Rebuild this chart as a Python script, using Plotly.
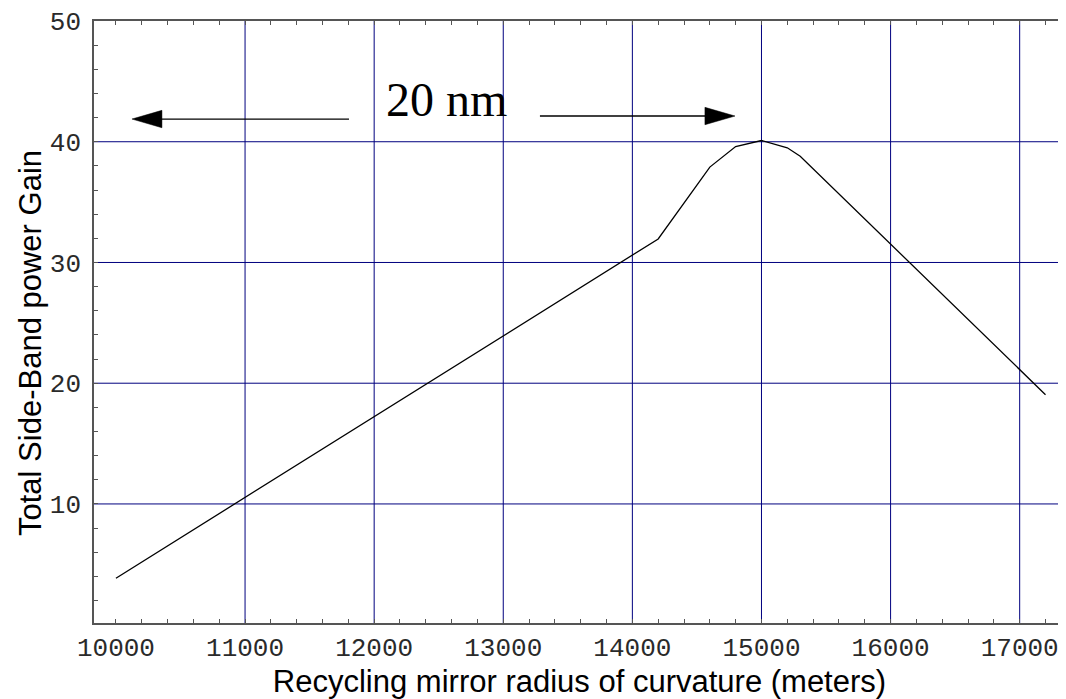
import plotly.graph_objects as go

# Data
radius_m = [10000, 14200, 14600, 14800, 15000, 15200, 15300, 17200]
gain = [3.85, 31.95, 37.9, 39.6, 40.1, 39.5, 38.8, 19.05]

x_ticks = [10000, 11000, 12000, 13000, 14000, 15000, 16000, 17000]
y_ticks = [10, 20, 30, 40, 50]
x_grid = [11000, 12000, 13000, 14000, 15000, 16000, 17000]
y_grid = [10, 20, 30, 40]

X_RANGE = [9830, 17351]
Y_RANGE = [0.14, 50]

GRID = "#00007f"
AXIS = "#555555"

fig = go.Figure()
fig.add_trace(go.Scatter(x=radius_m, y=gain, mode="lines",
                         line=dict(color="black", width=1.3),
                         showlegend=False, hoverinfo="skip"))

shapes = []
for gx in x_grid:
    shapes.append(dict(type="line", xref="x", yref="paper", x0=gx, x1=gx, y0=0, y1=1,
                       line=dict(color=GRID, width=1), layer="below"))
for gy in y_grid:
    shapes.append(dict(type="line", xref="paper", yref="y", x0=0, x1=1, y0=gy, y1=gy,
                       line=dict(color=GRID, width=1), layer="below"))

# "20 nm" arrows
ay_left, ay_right = 41.88, 42.13
hh = 0.72
shapes.append(dict(type="line", xref="x", yref="y", x0=11805, x1=10300, y0=ay_left, y1=ay_left,
                   line=dict(color="black", width=1.3)))
shapes.append(dict(type="path", xref="x", yref="y",
                   path=f"M 10124,{ay_left} L 10356,{ay_left+hh} L 10356,{ay_left-hh} Z",
                   fillcolor="black", line=dict(color="black", width=0.5)))
shapes.append(dict(type="line", xref="x", yref="y", x0=13284, x1=14600, y0=ay_right, y1=ay_right,
                   line=dict(color="black", width=1.3)))
shapes.append(dict(type="path", xref="x", yref="y",
                   path=f"M 14795,{ay_right} L 14562,{ay_right+hh} L 14562,{ay_right-hh} Z",
                   fillcolor="black", line=dict(color="black", width=0.5)))

tickfont = dict(family="Liberation Mono", size=26, color="#2a2a2a")
titlefont = dict(family="Liberation Sans", size=31, color="black")

# The page body has an 8px default margin; size the figure so it fills the window.
fig.update_layout(
    width=1058, height=691,
    margin=dict(l=86, r=1, t=13, b=76),
    paper_bgcolor="white", plot_bgcolor="white",
    shapes=shapes,
    annotations=[
        dict(text="20 nm", x=12564, y=43.5, xref="x", yref="y",
             showarrow=False, xanchor="center", yanchor="middle",
             font=dict(family="Liberation Serif", size=48, color="black")),
        dict(text="Total Side-Band power Gain", x=-0.066, y=0.465, xref="paper", yref="paper",
             textangle=-90, showarrow=False, xanchor="center", yanchor="middle",
             font=titlefont),
    ],
    xaxis=dict(range=X_RANGE, tickvals=x_ticks, ticktext=[str(v) for v in x_ticks],
               automargin=False,
               showgrid=False, zeroline=False,
               showline=True, linecolor=AXIS, linewidth=1.5, mirror="ticks",
               ticks="inside", ticklen=4, tickcolor=AXIS, tickwidth=1,
               minor=dict(dtick=200, tick0=10000, ticks="inside", ticklen=4, tickcolor=AXIS, showgrid=False),
               tickfont=tickfont, ticklabelstandoff=0,
               title=dict(text="Recycling mirror radius of curvature (meters)", font=titlefont, standoff=2)),
    yaxis=dict(range=Y_RANGE, tickvals=y_ticks, ticktext=[str(v) for v in y_ticks],
               automargin=False,
               showgrid=False, zeroline=False,
               showline=True, linecolor=AXIS, linewidth=1.5, mirror="ticks",
               ticks="inside", ticklen=4, tickcolor=AXIS, tickwidth=1,
               minor=dict(dtick=2, tick0=0, ticks="inside", ticklen=4, tickcolor=AXIS, showgrid=False),
               tickfont=tickfont, ticklabelstandoff=6),
)

fig.write_html("out.html")
